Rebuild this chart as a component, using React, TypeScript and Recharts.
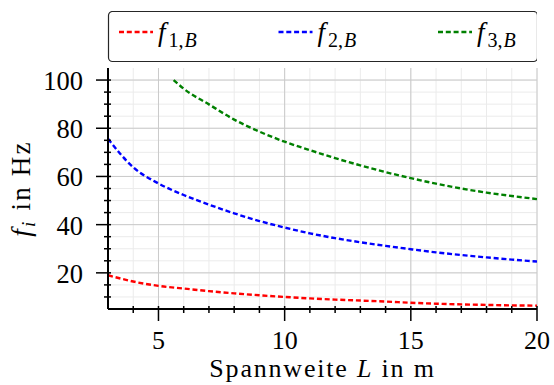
import React from 'react';
import { LineChart, Line, XAxis, YAxis, CartesianGrid, Legend } from 'recharts';

// Span length L in m
const L_VALUES = [3, 4, 5, 6, 7, 8, 9, 10, 11, 12, 13, 14, 15, 16, 17, 18, 19, 20];
// f_{1,B} in Hz
const F1_VALUES = [19.0, 16.4, 14.6, 13.5, 12.4, 11.5, 10.7, 10.0, 9.4, 8.9, 8.5, 8.1, 7.6, 7.2, 6.9, 6.7, 6.5, 6.4];
// f_{2,B} in Hz
const F2_VALUES = [75.6, 63.8, 57.1, 52.3, 48.3, 44.7, 41.5, 38.8, 36.4, 34.4, 32.7, 31.2, 29.8, 28.5, 27.4, 26.4, 25.5, 24.7];
// f_{3,B} in Hz (only drawn where it is at most 100 Hz)
const L3_VALUES = [5.6, 6, 7, 8, 9, 10, 11, 12, 13, 14, 15, 16, 17, 18, 19, 20];
const F3_VALUES = [100, 96.4, 89.9, 83.6, 78.6, 74.4, 70.9, 67.6, 64.6, 61.8, 59.3, 57.0, 55.0, 53.3, 51.9, 50.6];

const X_DOMAIN = [3, 20];
const Y_DOMAIN = [5, 105];
const X_TICKS = [4, 5, 6, 7, 8, 9, 10, 11, 12, 13, 14, 15, 16, 17, 18, 19, 20];
const X_MAJOR = [5, 10, 15, 20];
const Y_TICKS = [10, 15, 20, 25, 30, 35, 40, 45, 50, 55, 60, 65, 70, 75, 80, 85, 90, 95, 100];
const Y_MAJOR = [20, 40, 60, 80, 100];

const SERIES = [
  { key: 'f1', sub: '1', color: '#ff0000', xs: L_VALUES, ys: F1_VALUES },
  { key: 'f2', sub: '2', color: '#0000ff', xs: L_VALUES, ys: F2_VALUES },
  { key: 'f3', sub: '3', color: '#008000', xs: L3_VALUES, ys: F3_VALUES },
];

const FONT = '"Liberation Serif", "Times New Roman", serif';
const DASH = '5 2.8';

const XTick = (props: any) => {
  const { x, y, payload } = props;
  const v = payload.value;
  const major = X_MAJOR.includes(v);
  return (
    <g>
      <line x1={x} x2={x} y1={y - 3} y2={y + (major ? 12 : 4)} stroke="#000" strokeWidth={1.5} />
      {major && (
        <text x={x} y={y + 40} textAnchor="middle" fontFamily={FONT} fontSize={26} fill="#000">
          {v}
        </text>
      )}
    </g>
  );
};

const YTick = (props: any) => {
  const { x, y, payload } = props;
  const v = payload.value;
  const major = Y_MAJOR.includes(v);
  return (
    <g>
      <line x1={x - (major ? 12 : 4)} x2={x + 3} y1={y} y2={y} stroke="#000" strokeWidth={1.5} />
      {major && (
        <text x={x - 25} y={y + 10} textAnchor="end" fontFamily={FONT} fontSize={26.5} fill="#000">
          {v}
        </text>
      )}
    </g>
  );
};

const YLabel = (props: any) => {
  const vb = props.viewBox || { x: 0, y: 68, width: 108, height: 241 };
  const cx = vb.x + 30;
  const cy = vb.y + vb.height / 2;
  return (
    <text
      x={cx}
      y={cy}
      transform={`rotate(-90, ${cx}, ${cy})`}
      textAnchor="middle"
      fontFamily={FONT}
      fontSize={27}
      letterSpacing={2.2}
      fill="#000"
    >
      <tspan fontStyle="italic">f</tspan>
      <tspan fontStyle="italic" fontSize={19} dy={5}>i</tspan>
      <tspan dy={-5}> in Hz</tspan>
    </text>
  );
};

const XLabel = (props: any) => {
  const vb = props.viewBox || { x: 108, y: 309, width: 429, height: 76 };
  const cx = vb.x + vb.width / 2;
  const cy = vb.y + 68;
  return (
    <text x={cx} y={cy} textAnchor="middle" fontFamily={FONT} fontSize={26} letterSpacing={1.8} fill="#000">
      Spannweite <tspan fontStyle="italic">L</tspan> in m
    </text>
  );
};

const LegendBox = () => (
  <svg width={537} height={57} style={{ display: 'block' }}>
    <rect x={108.5} y={0.5} width={429} height={50} rx={4} ry={4} fill="#fff" stroke="#262626" strokeWidth={1.2} />
    {SERIES.map((s, i) => {
      const x0 = 119 + i * 159.5;
      return (
        <g key={s.key}>
          <line x1={x0} x2={x0 + 34} y1={21} y2={21} stroke={s.color} strokeWidth={2.4} strokeDasharray={DASH} />
          <text x={x0 + 39} y={30} fontFamily={FONT} fontSize={27} fill="#000">
            <tspan fontStyle="italic">f</tspan>
            <tspan fontSize={20} dy={5.5} dx={3}>{s.sub},</tspan>
            <tspan fontSize={20} fontStyle="italic" dx={1}>B</tspan>
          </text>
        </g>
      );
    })}
  </svg>
);

export default function App() {
  return (
    <div style={{ position: 'absolute', left: 0, top: 0, width: 554, height: 385, background: '#fff' }}>
      <LineChart width={554} height={385} margin={{ top: 11, right: 17, bottom: 0, left: 0 }}>
        <CartesianGrid
          stroke="#ebebeb"
          strokeWidth={1}
          verticalValues={X_TICKS}
          horizontalValues={Y_TICKS}
        />
        <CartesianGrid
          stroke="#cacaca"
          strokeWidth={1}
          verticalValues={X_MAJOR}
          horizontalValues={Y_MAJOR}
        />
        <XAxis
          type="number"
          dataKey="L"
          domain={X_DOMAIN}
          ticks={X_TICKS}
          interval={0}
          allowDataOverflow
          height={76}
          tickSize={0}
          tickMargin={0}
          tickLine={false}
          tick={<XTick />}
          axisLine={{ stroke: '#000', strokeWidth: 2 }}
          label={<XLabel />}
        />
        <YAxis
          type="number"
          domain={Y_DOMAIN}
          ticks={Y_TICKS}
          interval={0}
          allowDataOverflow
          width={108}
          tickSize={0}
          tickMargin={0}
          tickLine={false}
          tick={<YTick />}
          axisLine={{ stroke: '#000', strokeWidth: 2 }}
          label={<YLabel />}
        />
        <Legend verticalAlign="top" align="left" content={<LegendBox />} />
        {SERIES.map((s) => (
          <Line
            key={s.key}
            data={s.xs.map((L, i) => ({ L, f: s.ys[i] }))}
            dataKey="f"
            type="monotone"
            stroke={s.color}
            strokeWidth={2.4}
            strokeDasharray={DASH}
            dot={false}
            activeDot={false}
            isAnimationActive={false}
            legendType="none"
          />
        ))}
      </LineChart>
    </div>
  );
}
